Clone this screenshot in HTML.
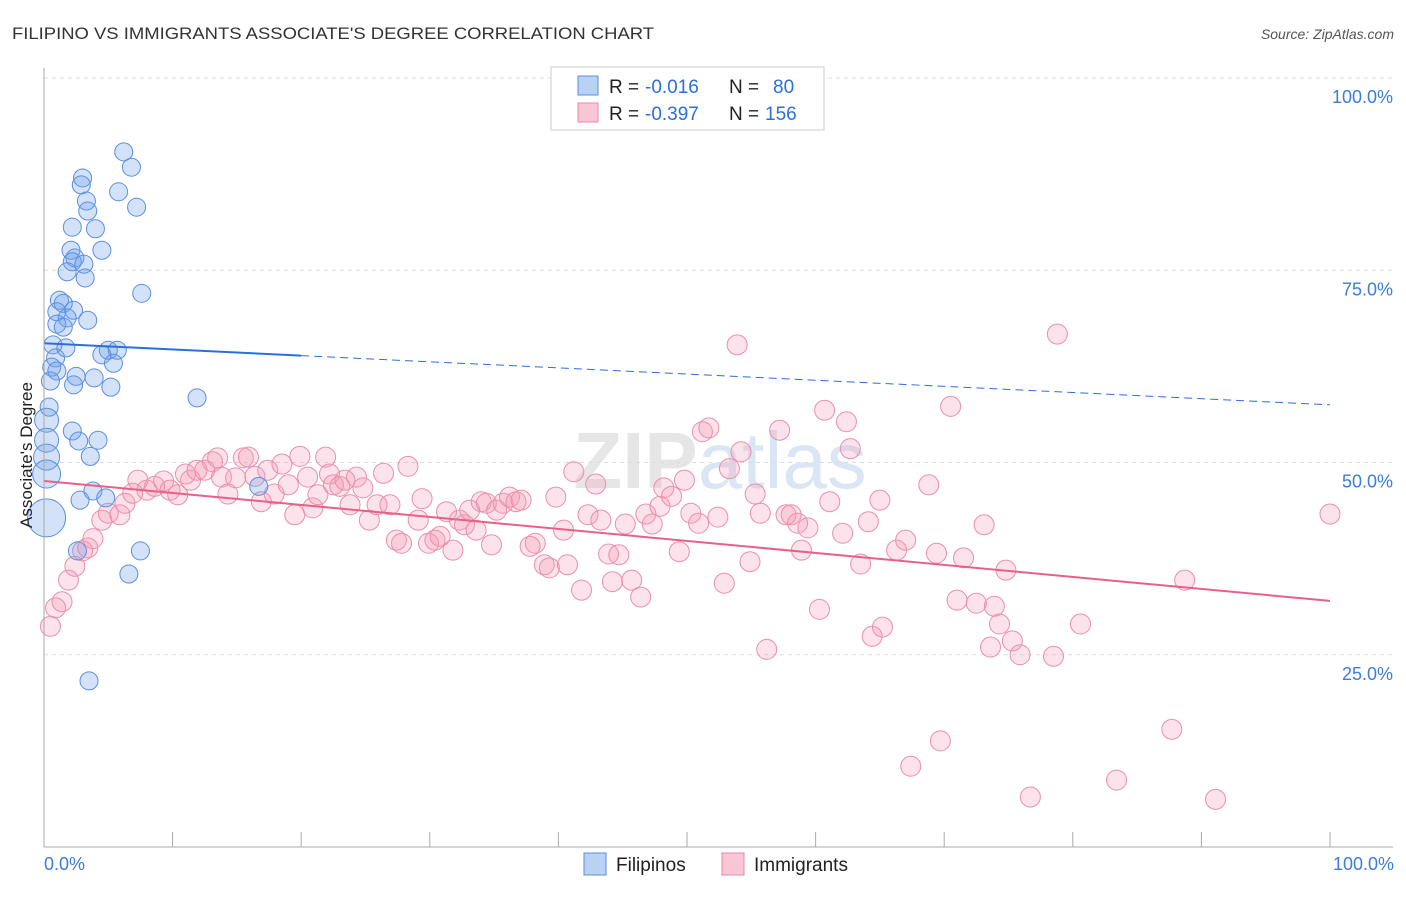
<!DOCTYPE html>
<html><head><meta charset="utf-8"><style>
body{margin:0;background:#fff;font-family:"Liberation Sans",sans-serif}
svg text{font-family:"Liberation Sans",sans-serif}
</style></head><body>
<svg id="c" width="1406" height="892" viewBox="0 0 1406 892">
<text x="12" y="39" font-size="17" fill="#333" textLength="642" lengthAdjust="spacingAndGlyphs">FILIPINO VS IMMIGRANTS ASSOCIATE'S DEGREE CORRELATION CHART</text>
<text x="1394" y="39" font-size="14" fill="#555" text-anchor="end" font-style="italic">Source: ZipAtlas.com</text>
<text x="720" y="488" font-size="80" fill="#e6e6e6" text-anchor="middle" font-weight="bold">ZIP<tspan fill="#dbe6f5" font-weight="normal">atlas</tspan></text>
<g id="grid"></g><g id="pts"></g><g id="lines"></g>
<line x1="44" y1="68" x2="44" y2="847" stroke="#aaa"/>
<line x1="44" y1="847" x2="1393" y2="847" stroke="#aaa"/>
<text x="32" y="455" font-size="17" fill="#222" text-anchor="middle" transform="rotate(-90 32 455)">Associate's Degree</text>
<text x="44" y="870" font-size="18" fill="#3b7dd8">0.0%</text>
<text x="1394" y="870" font-size="18" fill="#3b7dd8" text-anchor="end">100.0%</text>
<g>
<rect x="551" y="67" width="273" height="63" fill="#fff" stroke="#ccc"/>
<rect x="578" y="76" width="20" height="19" fill="#b9d1f3" stroke="#5b8fe0"/>
<rect x="578" y="103" width="20" height="19" fill="#f8c6d5" stroke="#e88aa8"/>
<text x="609" y="93" font-size="19" fill="#222">R =</text>
<text x="645" y="93" font-size="19" fill="#2a6fdb">-0.016</text>
<text x="729" y="93" font-size="19" fill="#222">N =</text>
<text x="773" y="93" font-size="19" fill="#2a6fdb">80</text>
<text x="609" y="120" font-size="19" fill="#222">R =</text>
<text x="645" y="120" font-size="19" fill="#2a6fdb">-0.397</text>
<text x="729" y="120" font-size="19" fill="#222">N =</text>
<text x="765" y="120" font-size="19" fill="#2a6fdb">156</text>
</g>
<g><rect x="584" y="853" width="22" height="22" fill="#b9d1f3" stroke="#5b8fe0"/><text x="616" y="871" font-size="19" fill="#222">Filipinos</text></g>
<g><rect x="722" y="853" width="22" height="22" fill="#f8c6d5" stroke="#e88aa8"/><text x="754" y="871" font-size="19" fill="#222">Immigrants</text></g>
</svg>
<script>
const yTicks=[100,75,50,25];
const yTickLabels=["100.0%","75.0%","50.0%","25.0%"];
const xTicks=[10,20,30,40,50,60,70,80,90,100];
const filX=[6.2,6.8,3.0,2.9,5.8,7.2,3.3,3.4,2.2,4.0,2.1,4.5,2.4,2.2,3.1,1.8,3.2,7.6,1.2,1.5,2.3,1.0,1.8,3.4,1.0,1.5,0.7,1.7,5.0,5.7,4.5,0.9,5.4,0.6,1.0,2.5,3.9,0.5,2.3,5.2,11.9,0.4,0.2,2.2,4.2,2.7,0.2,3.6,0.2,0.2,16.7,3.8,2.8,4.8,0.2,2.6,7.5,6.6,3.5];
const filY=[90.4,88.4,87.0,86.1,85.2,83.2,84.0,82.7,80.6,80.4,77.6,77.6,76.6,76.1,75.8,74.8,74.0,72.0,71.1,70.7,69.8,69.6,68.8,68.5,68.0,67.6,65.3,64.9,64.6,64.6,64.0,63.6,62.9,62.4,61.9,61.2,61.0,60.6,60.1,59.8,58.4,57.2,55.5,54.1,52.9,52.8,52.9,50.8,50.7,48.5,46.9,46.3,45.1,45.4,42.8,38.5,38.5,35.5,21.6];
const filR=[9,9,9,9,9,9,9,9,9,9,9,9,9,9,9,9,9,9,9,9,9,9,9,9,9,9,9,9,9,9,9,9,9,9,9,9,9,9,9,9,9,9,12,9,9,9,12,9,13,14,9,9,9,9,19,9,9,9,9];
const immX=[0.5,0.9,1.4,1.9,2.4,3.0,3.4,3.8,4.5,5.0,5.9,6.3,6.9,7.3,8.0,8.6,9.3,9.8,10.4,11.0,11.4,11.9,12.5,13.1,13.5,13.8,14.3,14.9,15.5,15.9,16.4,16.9,17.4,17.9,18.5,19.0,19.5,19.9,20.5,20.9,21.3,21.9,22.2,22.5,23.0,23.4,23.8,24.3,24.8,25.3,25.9,26.4,26.9,27.4,27.8,28.3,29.1,29.4,29.9,30.4,30.8,31.3,31.8,32.3,32.7,33.1,33.6,34.0,34.4,34.8,35.2,35.7,36.2,36.7,37.1,37.8,38.2,38.9,39.3,39.8,40.4,40.7,41.2,41.8,42.3,42.9,43.3,43.9,44.2,44.7,45.2,45.7,46.4,46.8,47.3,47.9,48.2,48.8,49.4,49.8,50.3,50.9,51.2,51.7,52.4,52.9,53.3,53.9,54.2,54.9,55.3,55.7,56.2,57.2,57.7,58.1,58.6,58.9,59.4,60.3,60.7,61.1,62.1,62.4,62.7,63.5,64.1,64.4,65.0,65.2,66.3,67.0,67.4,68.8,69.4,69.7,70.5,71.0,71.5,72.5,73.1,73.6,73.9,74.3,74.8,75.3,75.9,76.7,78.5,78.8,80.6,83.4,87.7,88.7,91.1,100.0];
const immY=[28.7,31.1,31.9,34.7,36.5,38.5,38.9,40.1,42.5,43.4,43.2,44.7,46.0,47.7,46.4,46.9,47.6,46.4,45.8,48.5,47.7,49.0,49.0,50.1,50.6,48.1,45.9,48.0,50.6,50.7,48.2,44.9,49.0,45.9,49.8,47.1,43.2,50.8,48.1,44.1,45.8,50.7,48.5,47.1,46.9,47.7,44.5,48.1,46.7,42.5,44.5,48.6,44.5,39.9,39.5,49.5,42.5,45.3,39.5,39.9,40.4,43.6,38.6,42.5,41.9,43.8,41.2,44.9,44.7,39.3,43.8,44.7,45.5,44.9,45.1,39.1,39.5,36.7,36.3,45.5,41.2,36.7,48.8,33.4,43.2,47.2,42.5,38.1,34.5,38.0,42.0,34.7,32.5,43.3,42.0,44.3,46.7,45.6,38.4,47.7,43.4,42.1,54.0,54.5,42.9,34.3,49.2,65.3,51.4,37.1,45.9,43.4,25.7,54.2,43.2,43.2,42.1,38.6,41.5,30.9,56.8,44.9,40.8,55.3,51.8,36.8,42.3,27.4,45.1,28.6,38.6,39.9,10.5,47.1,38.2,13.8,57.3,32.1,37.6,31.7,41.9,26.0,31.3,29.0,36.0,26.8,25.0,6.5,24.8,66.7,29.0,8.7,15.3,34.7,6.2,43.3];
const filTrend=[65.5,57.5];
const immTrend=[47.6,32.0];
const NS="http://www.w3.org/2000/svg";
const X=v=>44+v*12.86, Y=v=>847-v*7.69;
function mk(t,a,p){const e=document.createElementNS(NS,t);for(const k in a)e.setAttribute(k,a[k]);p.appendChild(e);return e;}
const grid=document.getElementById('grid'),pts=document.getElementById('pts'),lines=document.getElementById('lines');
yTicks.forEach((t,i)=>{
 const l=mk('line',{x1:44,x2:1393,y1:Y(t),y2:Y(t),stroke:'#ddd','stroke-dasharray':'4,4'},grid);
 
 
 const tx=mk('text',{x:1393,y:Y(t)+25,'font-size':18,fill:'#3b7dd8','text-anchor':'end'},grid);
 tx.textContent=yTickLabels[i];
 
 
});
xTicks.forEach(t=>{
 const l=mk('line',{x1:X(t),x2:X(t),y1:832,y2:847,stroke:'#aaa'},grid);
 
 
});
immX.forEach((x,i)=>{
 const c=mk('circle',{cx:X(x),cy:Y(immY[i]),r:10,fill:'rgba(244,150,180,0.28)',stroke:'#ea8fab','stroke-width':1},pts);
 
 
});
filX.forEach((x,i)=>{
 const c=mk('circle',{cx:X(x),cy:Y(filY[i]),r:filR[i],fill:'rgba(110,160,235,0.3)',stroke:'#5b8fe0','stroke-width':1},pts);
 
 
});
const fy=x=>filTrend[0]+(filTrend[1]-filTrend[0])*x/100;
const iy=x=>immTrend[0]+(immTrend[1]-immTrend[0])*x/100;
let l1=mk('line',{x1:X(0),y1:Y(fy(0)),x2:X(20),y2:Y(fy(20)),stroke:'#2a6fdb','stroke-width':2},lines);


let l2=mk('line',{x1:X(20),y1:Y(fy(20)),x2:X(100),y2:Y(fy(100)),stroke:'#2a6fdb','stroke-width':1,'stroke-dasharray':'8,5'},lines);


let l3=mk('line',{x1:X(0),y1:Y(iy(0)),x2:X(100),y2:Y(iy(100)),stroke:'#e8608a','stroke-width':2},lines);


</script>
</body></html>
